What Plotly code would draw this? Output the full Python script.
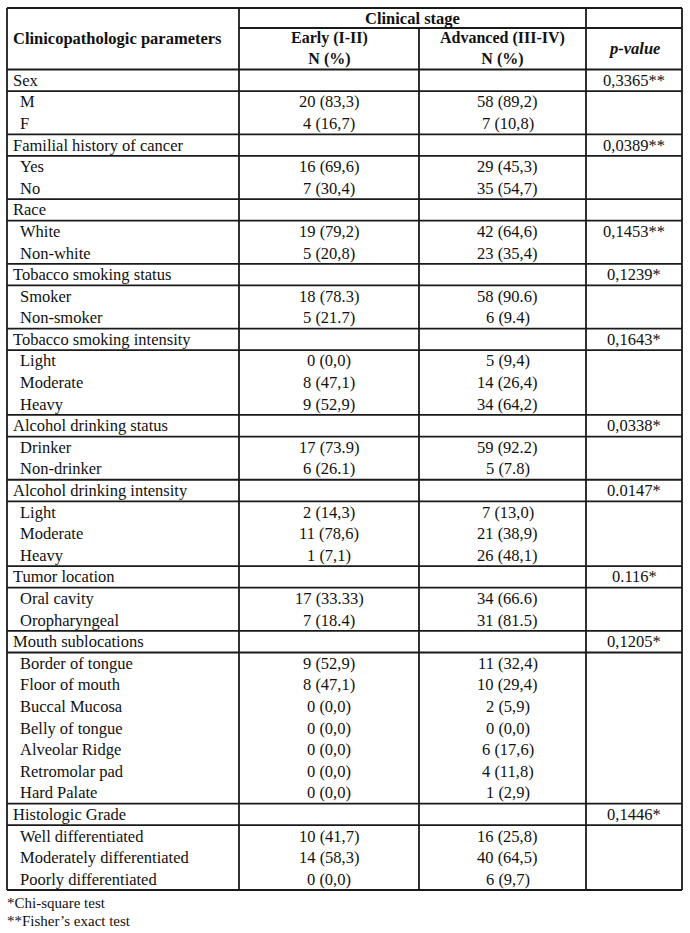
import plotly.graph_objects as go

# ---------------- data ----------------
row_labels = [
    "Sex", "M", "F",
    "Familial history of cancer", "Yes", "No",
    "Race", "White", "Non-white",
    "Tobacco smoking status", "Smoker", "Non-smoker",
    "Tobacco smoking intensity", "Light", "Moderate", "Heavy",
    "Alcohol drinking status", "Drinker", "Non-drinker",
    "Alcohol drinking intensity", "Light", "Moderate", "Heavy",
    "Tumor location", "Oral cavity", "Oropharyngeal",
    "Mouth sublocations", "Border of tongue", "Floor of mouth", "Buccal Mucosa",
    "Belly of tongue", "Alveolar Ridge", "Retromolar pad", "Hard Palate",
    "Histologic Grade", "Well differentiated", "Moderately differentiated",
    "Poorly differentiated",
]
row_level = [
    0, 1, 1,
    0, 1, 1,
    0, 1, 1,
    0, 1, 1,
    0, 1, 1, 1,
    0, 1, 1,
    0, 1, 1, 1,
    0, 1, 1,
    0, 1, 1, 1, 1, 1, 1, 1,
    0, 1, 1, 1,
]
early = [
    "", "20 (83,3)", "4 (16,7)",
    "", "16 (69,6)", "7 (30,4)",
    "", "19 (79,2)", "5 (20,8)",
    "", "18 (78.3)", "5 (21.7)",
    "", "0 (0,0)", "8 (47,1)", "9 (52,9)",
    "", "17 (73.9)", "6 (26.1)",
    "", "2 (14,3)", "11 (78,6)", "1 (7,1)",
    "", "17 (33.33)", "7 (18.4)",
    "", "9 (52,9)", "8 (47,1)", "0 (0,0)", "0 (0,0)", "0 (0,0)", "0 (0,0)", "0 (0,0)",
    "", "10 (41,7)", "14 (58,3)", "0 (0,0)",
]
advanced = [
    "", "58 (89,2)", "7 (10,8)",
    "", "29 (45,3)", "35 (54,7)",
    "", "42 (64,6)", "23 (35,4)",
    "", "58 (90.6)", "6 (9.4)",
    "", "5 (9,4)", "14 (26,4)", "34 (64,2)",
    "", "59 (92.2)", "5 (7.8)",
    "", "7 (13,0)", "21 (38,9)", "26 (48,1)",
    "", "34 (66.6)", "31 (81.5)",
    "", "11 (32,4)", "10 (29,4)", "2 (5,9)", "0 (0,0)", "6 (17,6)", "4 (11,8)", "1 (2,9)",
    "", "16 (25,8)", "40 (64,5)", "6 (9,7)",
]
p_values = [
    "0,3365**", "", "",
    "0,0389**", "", "",
    "", "0,1453**", "",
    "0,1239*", "", "",
    "0,1643*", "", "", "",
    "0,0338*", "", "",
    "0.0147*", "", "", "",
    "0.116*", "", "",
    "0,1205*", "", "", "", "", "", "", "",
    "0,1446*", "", "", "",
]
header_first = "Clinicopathologic parameters"
header_group = "Clinical stage"
header_cols = [("Early (I-II)", "N (%)"), ("Advanced (III-IV)", "N (%)")]
header_p = "p-value"
footnotes = ["*Chi-square test", "**Fisher\u2019s exact test"]

# ---------------- layout constants ----------------
W, H = 690, 933
col_x = [7, 239, 419, 586, 682]
top = 8
mid = 28
head_bot = 69.5
bottom = 890
n = len(row_labels)
rh = (bottom - head_bot) / n
FONT = "Liberation Serif, Times New Roman, serif"
FS = 16.5
LC = "#1a1a1a"
LW = 1.8

fig = go.Figure()
shapes = []
ann = []

def hline(y, x0, x1):
    shapes.append(dict(type="line", xref="x", yref="y", x0=x0, x1=x1, y0=y, y1=y,
                       line=dict(color=LC, width=LW)))

def vline(x, y0, y1):
    shapes.append(dict(type="line", xref="x", yref="y", x0=x, x1=x, y0=y0, y1=y1,
                       line=dict(color=LC, width=LW)))

def text(x, y, s, anchor="center", size=FS, bold=False, italic=False):
    if bold:
        s = "<b>" + s + "</b>"
    if italic:
        s = "<i>" + s + "</i>"
    ann.append(dict(x=x, y=y, xref="x", yref="y", text=s, showarrow=False,
                    xanchor=anchor, yanchor="middle", borderpad=0,
                    font=dict(family=FONT, size=size, color="#111")))

# outer + column lines
hline(top, col_x[0], col_x[4])
hline(mid, col_x[1], col_x[4])
hline(head_bot, col_x[0], col_x[4])
hline(bottom, col_x[0], col_x[4])
for i, x in enumerate(col_x):
    vline(x, mid if i == 2 else top, bottom)

# separators where level changes
for i in range(1, n):
    if row_level[i] != row_level[i - 1]:
        y = head_bot + i * rh
        hline(y, col_x[0], col_x[4])

# header text
text(12, (top + head_bot) / 2, header_first, anchor="left", bold=True)
text((col_x[1] + col_x[3]) / 2, (top + mid) / 2, header_group, bold=True)
for j, (l1, l2) in enumerate(header_cols):
    cx = (col_x[j + 1] + col_x[j + 2]) / 2
    text(cx, (mid + head_bot) / 2, "<b>" + l1 + "</b><br><b>" + l2 + "</b>", size=16)
text((col_x[3] + col_x[4]) / 2, (mid + head_bot) / 2, header_p, bold=True, italic=True)

# body
for i in range(n):
    yc = head_bot + (i + 0.5) * rh
    lx = 12 if row_level[i] == 0 else 19
    text(lx, yc, row_labels[i], anchor="left")
    if early[i]:
        text((col_x[1] + col_x[2]) / 2, yc, early[i])
    if advanced[i]:
        text((col_x[2] + col_x[3]) / 2 + 5, yc, advanced[i])
    if p_values[i]:
        text((col_x[3] + col_x[4]) / 2, yc, p_values[i])

# footnotes
text(6, 903, footnotes[0], anchor="left", size=15)
text(6, 921, footnotes[1], anchor="left", size=15)

fig.update_layout(
    width=W, height=H,
    margin=dict(l=0, r=0, t=0, b=0),
    paper_bgcolor="white", plot_bgcolor="white",
    xaxis=dict(range=[0, W], visible=False, fixedrange=True),
    yaxis=dict(range=[H, 0], visible=False, fixedrange=True),
    shapes=shapes, annotations=ann, showlegend=False,
)
fig.write_html("out.html", config={"displayModeBar": False},
               post_script="document.body.style.margin='0';document.body.style.overflow='hidden';")
